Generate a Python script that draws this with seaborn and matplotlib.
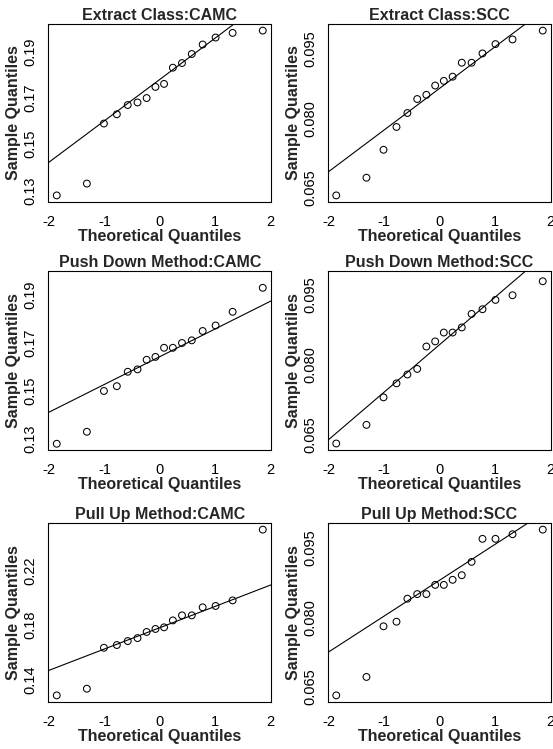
import numpy as np
import pandas as pd
import seaborn as sns
import matplotlib
matplotlib.use("Agg")
import matplotlib.pyplot as plt

# normal scores of the 16 observations (same for every panel)
theoretical = [-1.863, -1.318, -1.010, -0.776, -0.579, -0.402, -0.237, -0.078,
               0.078, 0.237, 0.402, 0.579, 0.776, 1.010, 1.318, 1.863]

# sorted sample values
extract_camc = [0.1279, 0.1330, 0.1589, 0.1629, 0.1669, 0.1680, 0.1699, 0.1747,
                0.1760, 0.1830, 0.1850, 0.1889, 0.1930, 0.1960, 0.1980, 0.1990]
extract_scc = [0.0634, 0.0672, 0.0732, 0.0781, 0.0811, 0.0841, 0.0850, 0.0870,
               0.0880, 0.0889, 0.0919, 0.0919, 0.0939, 0.0959, 0.0969, 0.0988]
pushdown_camc = [0.1280, 0.1330, 0.1500, 0.1520, 0.1580, 0.1590, 0.1630, 0.1642,
                 0.1680, 0.1680, 0.1700, 0.1711, 0.1750, 0.1773, 0.1830, 0.1930]
pushdown_scc = [0.0630, 0.0670, 0.0729, 0.0759, 0.0778, 0.0790, 0.0838, 0.0849,
                0.0868, 0.0868, 0.0879, 0.0908, 0.0918, 0.0938, 0.0948, 0.0978]
pullup_camc = [0.1283, 0.1332, 0.1633, 0.1653, 0.1682, 0.1704, 0.1749, 0.1771,
               0.1783, 0.1834, 0.1871, 0.1871, 0.1930, 0.1940, 0.1981, 0.2501]
pullup_scc = [0.0630, 0.0670, 0.0780, 0.0790, 0.0840, 0.0850, 0.0850, 0.0870,
              0.0870, 0.0881, 0.0891, 0.0920, 0.0970, 0.0970, 0.0980, 0.0990]

titles = ["Extract Class:CAMC", "Extract Class:SCC",
          "Push Down Method:CAMC", "Push Down Method:SCC",
          "Pull Up Method:CAMC", "Pull Up Method:SCC"]
samples = [extract_camc, extract_scc, pushdown_camc, pushdown_scc,
           pullup_camc, pullup_scc]

x_ticks = [-2, -1, 0, 1, 2]
camc_ticks = [0.13, 0.14, 0.15, 0.16, 0.17, 0.18, 0.19, 0.20]
camc_labels = ["0.13", "", "0.15", "", "0.17", "", "0.19", ""]
scc_ticks = [0.065, 0.070, 0.075, 0.080, 0.085, 0.090, 0.095, 0.100]
scc_labels = ["0.065", "", "", "0.080", "", "", "0.095", ""]
pullup_ticks = [0.14, 0.16, 0.18, 0.20, 0.22, 0.24]
pullup_labels = ["0.14", "", "0.18", "", "0.22", ""]
y_ticks = [camc_ticks, scc_ticks, camc_ticks, scc_ticks, pullup_ticks, scc_ticks]
y_labels = [camc_labels, scc_labels, camc_labels, scc_labels, pullup_labels, scc_labels]

sns.set_style("white")
plt.rcParams['font.family'] = ['Liberation Sans', 'DejaVu Sans']

W, H = 553, 749
fig = plt.figure(figsize=(W / 100, H / 100), dpi=100)

# axes boxes in pixels: (left, top, right, bottom)
col_x = [(48.5, 271), (328, 551)]
row_y = [(24, 202), (271, 450), (523, 702)]

for k in range(6):
    r, c = divmod(k, 2)
    x0, x1 = col_x[c]
    y0, y1 = row_y[r]
    ax = fig.add_axes([x0 / W, 1 - y1 / H, (x1 - x0) / W, (y1 - y0) / H])

    df = pd.DataFrame({"theo": theoretical, "sample": samples[k]})
    sns.scatterplot(data=df, x="theo", y="sample", ax=ax, s=24,
                    facecolor="none", edgecolor="black", linewidth=0.75)

    # qqline through the first and third quartiles
    q1, q3 = np.quantile(df["sample"], [0.25, 0.75])
    ax.axline((-0.6745, q1), (0.6745, q3), color="black", lw=0.8)

    ax.margins(x=0.04, y=0.04)
    ax.set_xticks(x_ticks)
    ax.set_xticklabels([str(t) for t in x_ticks], fontsize=10.5)
    ax.set_yticks(y_ticks[k])
    ax.set_yticklabels(y_labels[k], fontsize=10.5, rotation=90, va="center")
    ax.tick_params(axis="x", direction="out", length=7, width=0.75, pad=2.5, colors="black")
    ax.tick_params(axis="y", direction="out", length=7, width=0.75, pad=1, colors="black")
    for sp in ax.spines.values():
        sp.set_visible(True)
        sp.set_color("black")
        sp.set_linewidth(0.8)

    ax.set_title(titles[k], fontsize=11.5, fontweight="bold", pad=3)
    ax.set_xlabel("Theoretical Quantiles", fontsize=11.5, fontweight="bold")
    ax.set_ylabel("Sample Quantiles", fontsize=11.5, fontweight="bold")
    ax.xaxis.set_label_coords(0.5, -27 / (y1 - y0))
    ax.yaxis.set_label_coords(-27 / (x1 - x0), 0.5)

fig.savefig("out.png", dpi=100)
